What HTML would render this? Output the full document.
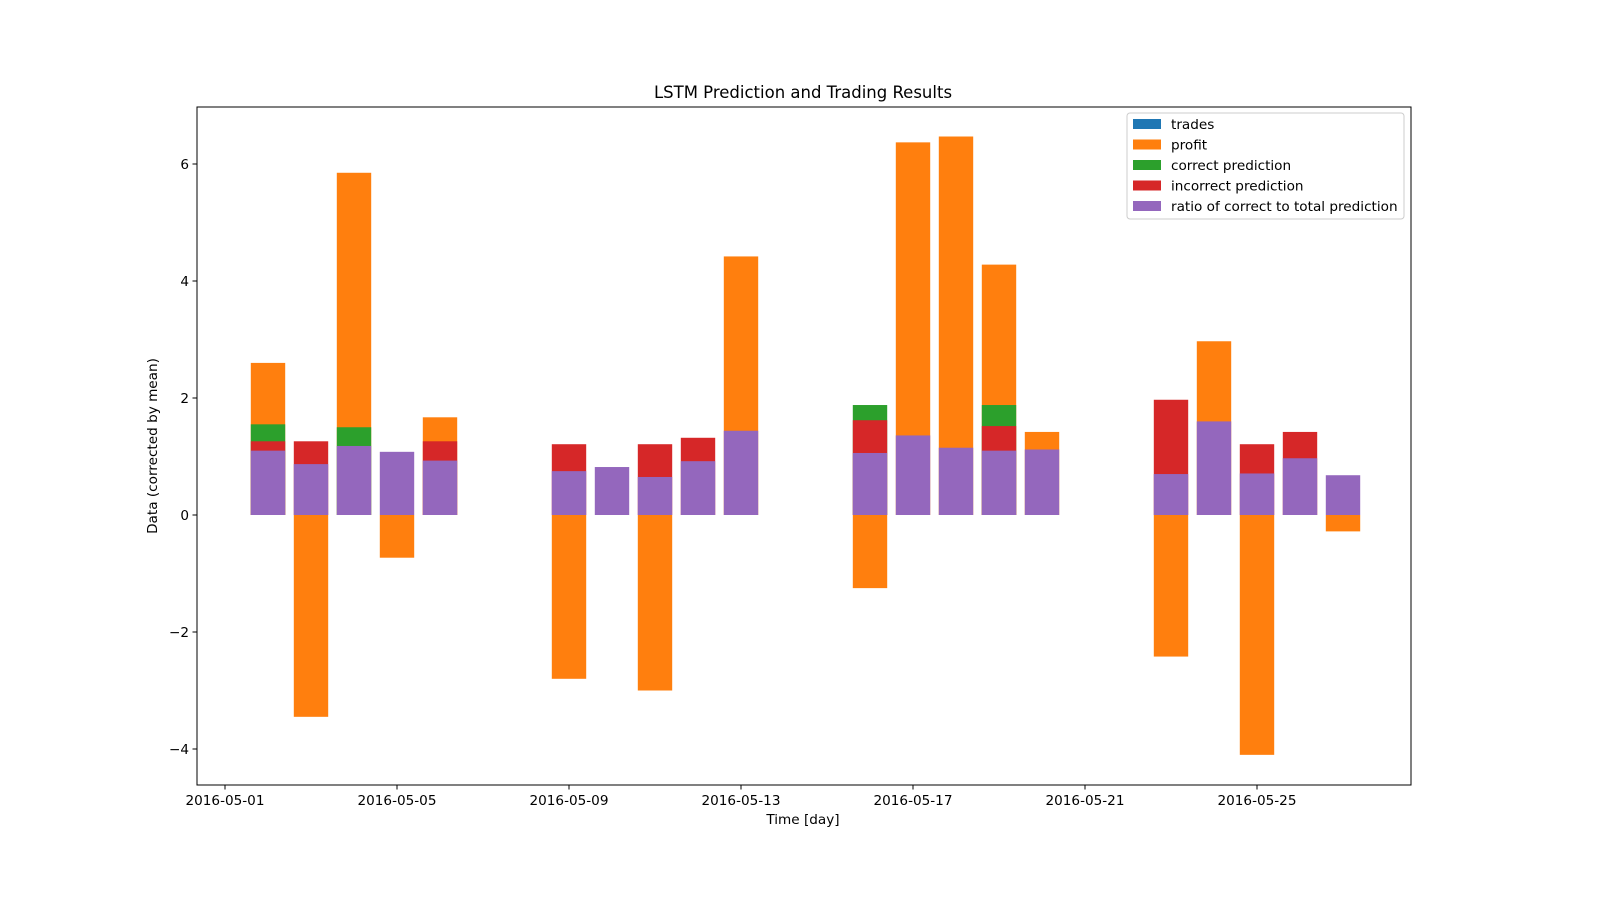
<!DOCTYPE html>
<html><head><meta charset="utf-8"><style>
body{margin:0;background:#fff}
svg text{font-family:"DejaVu Sans","Liberation Sans",sans-serif;font-size:13.6px;fill:#000}
</style></head><body>
<svg id="chart" width="1600" height="900" xmlns="http://www.w3.org/2000/svg">
<rect width="1600" height="900" fill="#fff"/>
<g id="bars"></g>
<g id="axes"></g>
<text x="803" y="98" text-anchor="middle" style="font-size:16.5px">LSTM Prediction and Trading Results</text>
<text x="803" y="824" text-anchor="middle">Time [day]</text>
<text transform="translate(157,446) rotate(-90)" text-anchor="middle">Data (corrected by mean)</text>
<g id="legend"></g>
</svg>
<script>
const days=[2,3,4,5,6,9,10,11,12,13,16,17,18,19,20,23,24,25,26,27];
const trades=[0,0,0,0,0,0,0,0,0,0,0,0,0,0,0,0,0,0,0,0];
const profit=[2.6,-3.45,5.85,-0.73,1.67,-2.8,0,-3.0,0,4.42,-1.25,6.37,6.47,4.28,1.42,-2.42,2.97,-4.1,0,-0.28];
const correct=[1.55,0,1.5,0,0,0,0,0,0,0,1.88,0,0,1.88,0,0,0,0,0,0];
const incorrect=[1.26,1.26,0,0,1.26,1.21,0,1.21,1.32,0,1.62,0,0,1.52,0,1.97,0,1.21,1.42,0];
const ratio=[1.1,0.87,1.18,1.08,0.93,0.75,0.82,0.65,0.92,1.44,1.06,1.36,1.15,1.1,1.12,0.7,1.6,0.71,0.97,0.68];
const yTicks=[-4,-2,0,2,4,6];
const xTickDays=[1,5,9,13,17,21,25];
const xTickLabels=["2016-05-01","2016-05-05","2016-05-09","2016-05-13","2016-05-17","2016-05-21","2016-05-25"];
const seriesNames=["trades","profit","correct prediction","incorrect prediction","ratio of correct to total prediction"];
const colors=["#1f77b4","#ff7f0e","#2ca02c","#d62728","#9467bd"];
const L=197,R=1411,T=107,B=785;
const x=d=>225+(d-1)*43;
const y=v=>515-v*58.5;
const NS="http://www.w3.org/2000/svg";
function mk(tag,attrs,parent){const e=document.createElementNS(NS,tag);for(const k in attrs)e.setAttribute(k,attrs[k]);parent.appendChild(e);return e;}
const bars=document.getElementById('bars');
[trades,profit,correct,incorrect,ratio].forEach((s,si)=>{
  s.forEach((v,i)=>{
    if(!v)return;
    const r=mk('rect',{x:x(days[i])-17.2,width:34.4,y:Math.min(y(v),y(0)),height:Math.abs(y(v)-y(0)),fill:colors[si]},bars);
    
    
  });
});
const ax=document.getElementById('axes');
const fr=mk('rect',{x:L,y:T,width:R-L,height:B-T,fill:'none',stroke:'#000','stroke-width':1},ax);


yTicks.forEach(v=>{
  mk('line',{x1:L-4.5,x2:L,y1:y(v),y2:y(v),stroke:'#000'},ax);
  const t=mk('text',{x:L-8,y:y(v)+5,'text-anchor':'end'},ax);
  t.textContent=v<0?'\u2212'+(-v):v;
  
  
});
xTickDays.forEach((d,i)=>{
  mk('line',{x1:x(d),x2:x(d),y1:B,y2:B+4.5,stroke:'#000'},ax);
  const t=mk('text',{x:x(d),y:B+20,'text-anchor':'middle'},ax);
  t.textContent=xTickLabels[i];
  
  
});
const lg=document.getElementById('legend');
mk('rect',{x:1127,y:113,width:277,height:106,rx:3,fill:'#fff','fill-opacity':0.8,stroke:'#ccc'},lg);
seriesNames.forEach((n,i)=>{
  const yy=124+i*20.5;
  mk('rect',{x:1133,y:yy-5,width:28,height:10,fill:colors[i]},lg);
  const t=mk('text',{x:1171,y:yy+5},lg);
  t.textContent=n;
  
  
});
</script>
</body></html>
